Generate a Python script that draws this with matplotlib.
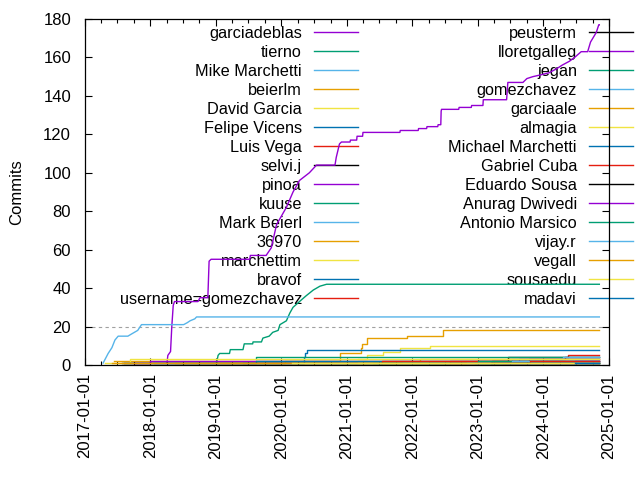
import matplotlib
matplotlib.use("Agg")
import matplotlib.pyplot as plt
import matplotlib.dates as mdates
from matplotlib.lines import Line2D
import pandas as pd

plt.rcParams['font.family'] = ['Liberation Sans', 'DejaVu Sans']

# every author line runs on to the day the chart was made
END = "2024-11-08"

# the big authors: corner points of the traced line, (date, total commits)
garciadeblas = [
    ("2018-04-03", 1), ("2018-04-08", 5), ("2018-04-23", 7), ("2018-04-30", 20),
    ("2018-05-08", 31), ("2018-05-15", 33), ("2018-09-23", 33), ("2018-10-04", 35),
    ("2018-11-17", 35), ("2018-11-24", 54), ("2018-12-05", 55), ("2019-07-09", 55),
    ("2019-07-12", 57), ("2019-10-08", 57), ("2019-11-06", 61), ("2019-12-05", 73),
    ("2020-01-29", 82), ("2020-03-06", 90), ("2020-04-11", 96), ("2020-06-05", 100),
    ("2020-07-15", 104), ("2020-10-26", 104), ("2020-11-02", 108), ("2020-11-20", 115),
    ("2020-12-01", 116), ("2021-01-18", 116), ("2021-01-20", 117), ("2021-02-24", 117),
    ("2021-02-26", 119), ("2021-03-29", 119), ("2021-03-31", 121), ("2021-10-23", 121),
    ("2021-10-25", 122), ("2022-02-02", 122), ("2022-02-04", 123), ("2022-03-21", 123),
    ("2022-03-23", 124), ("2022-05-22", 124), ("2022-05-24", 125), ("2022-06-08", 125),
    ("2022-06-10", 132), ("2022-06-12", 133), ("2022-09-16", 133), ("2022-09-18", 134),
    ("2022-11-25", 134), ("2022-11-27", 135), ("2023-01-29", 135), ("2023-01-31", 138),
    ("2023-06-10", 138), ("2023-06-17", 147), ("2023-09-09", 147), ("2023-10-01", 149),
    ("2023-11-03", 150), ("2023-12-20", 151), ("2024-02-01", 152), ("2024-03-13", 154),
    ("2024-04-15", 156), ("2024-05-25", 158), ("2024-06-23", 160), ("2024-07-30", 163),
    ("2024-09-04", 163), ("2024-09-20", 168), ("2024-10-22", 173), ("2024-11-05", 177),
]
tierno = [
    ("2019-01-05", 1), ("2019-01-13", 5), ("2019-01-22", 6), ("2019-03-18", 6),
    ("2019-03-22", 8), ("2019-06-01", 8), ("2019-06-08", 11), ("2019-07-25", 11),
    ("2019-07-27", 12), ("2019-09-12", 12), ("2019-09-20", 14), ("2019-10-25", 15),
    ("2019-11-14", 17), ("2019-12-14", 18), ("2019-12-24", 21), ("2020-01-29", 23),
    ("2020-02-17", 27), ("2020-03-06", 30), ("2020-04-11", 33), ("2020-05-18", 36),
    ("2020-06-27", 39), ("2020-08-03", 41), ("2020-09-09", 42),
]
mike_marchetti = [
    ("2017-04-12", 1), ("2017-05-10", 6), ("2017-05-31", 9), ("2017-06-17", 13),
    ("2017-07-05", 15), ("2017-08-28", 15), ("2017-09-15", 16), ("2017-10-22", 18),
    ("2017-11-12", 21), ("2018-07-05", 21), ("2018-07-25", 22), ("2018-08-10", 23),
    ("2018-09-05", 24), ("2018-09-15", 25),
]

# the others: (date of commit, running total), drawn as steps
beierlm = [
    ("2017-06-14", 2), ("2020-11-22", 6), ("2021-03-22", 9), ("2021-03-26", 11),
    ("2021-04-20", 14), ("2021-12-02", 15), ("2022-06-18", 18),
]
david_garcia = [
    ("2021-03-03", 3), ("2021-04-20", 5), ("2021-07-22", 7),
    ("2021-10-22", 9), ("2022-04-08", 10),
]
felipe_vicens = [("2020-04-10", 1), ("2020-05-08", 4), ("2020-05-12", 6), ("2020-05-25", 8)]
luis_vega = [("2021-07-08", 1), ("2022-07-30", 2), ("2023-10-15", 3), ("2024-05-01", 4), ("2024-05-20", 5)]
selvi_j = [("2017-08-08", 1), ("2023-03-20", 2), ("2023-06-18", 4)]
pinoa = [("2017-10-02", 1), ("2017-12-28", 2), ("2023-08-20", 3)]
kuuse = [("2019-08-10", 3), ("2019-08-15", 4)]
mark_beierl = [("2021-06-01", 1), ("2023-07-10", 3), ("2024-04-20", 4)]
u36970 = [("2018-05-20", 1), ("2020-01-20", 2), ("2022-02-10", 3)]
marchettim = [("2017-04-22", 1), ("2017-09-10", 3)]
bravof = [("2019-06-01", 1), ("2019-08-10", 2)]
username_gomezchavez = [("2021-07-10", 1), ("2021-07-15", 2)]
peusterm = [("2017-07-25", 1)]
lloretgalleg = [("2024-06-18", 1), ("2024-06-25", 2)]
jegan = [("2021-05-25", 1), ("2023-01-01", 2)]
gomezchavez = [("2021-11-08", 1), ("2023-07-10", 2)]
garciaale = [("2019-01-10", 1)]
almagia = [("2021-03-01", 1)]
michael_marchetti = [("2018-01-20", 1)]
gabriel_cuba = [("2022-07-30", 1), ("2023-10-20", 2)]
eduardo_sousa = [("2023-03-15", 1)]
anurag_dwivedi = [("2023-05-20", 1)]
antonio_marsico = [("2022-12-15", 1)]
vijay_r = [("2022-10-30", 1)]
vegall = [("2017-06-01", 1)]
sousaedu = [("2020-03-01", 1)]
madavi = [("2024-06-25", 1)]

names = [
    "garciadeblas", "tierno", "Mike Marchetti", "beierlm", "David Garcia",
    "Felipe Vicens", "Luis Vega", "selvi.j", "pinoa", "kuuse", "Mark Beierl",
    "36970", "marchettim", "bravof", "username=gomezchavez",
    "peusterm", "lloretgalleg", "jegan", "gomezchavez", "garciaale", "almagia",
    "Michael Marchetti", "Gabriel Cuba", "Eduardo Sousa", "Anurag Dwivedi",
    "Antonio Marsico", "vijay.r", "vegall", "sousaedu", "madavi",
]
series = [
    garciadeblas, tierno, mike_marchetti, beierlm, david_garcia,
    felipe_vicens, luis_vega, selvi_j, pinoa, kuuse, mark_beierl,
    u36970, marchettim, bravof, username_gomezchavez,
    peusterm, lloretgalleg, jegan, gomezchavez, garciaale, almagia,
    michael_marchetti, gabriel_cuba, eduardo_sousa, anurag_dwivedi,
    antonio_marsico, vijay_r, vegall, sousaedu, madavi,
]
traced = ["garciadeblas", "tierno", "Mike Marchetti"]

# gnuplot default line colours
colors = ["#9400d3", "#009e73", "#56b4e9", "#e69f00",
          "#f0e442", "#0072b2", "#e51e10", "#000000"]

fig = plt.figure(figsize=(6.4, 4.8), dpi=100)
ax = fig.add_axes([85 / 640, 1 - 365 / 480, (609 - 85) / 640, (365 - 19) / 480])

ax.axhline(20, color="#a0a0a0", lw=0.8, ls=(0, (3, 3)), zorder=1)

handles = []
for i, (name, pts) in enumerate(zip(names, series)):
    d = pd.to_datetime([p[0] for p in pts] + [END])
    v = [p[1] for p in pts] + [pts[-1][1]]
    c = colors[i % len(colors)]
    style = "default" if name in traced else "steps-post"
    ax.plot(d, v, drawstyle=style, color=c, lw=1.0, zorder=2)
    handles.append(Line2D([], [], color=c, lw=1.0))

ax.set_xlim(pd.Timestamp("2017-01-01"), pd.Timestamp("2025-01-01"))
ax.set_ylim(0, 180)
ax.set_yticks(range(0, 181, 20))
ax.xaxis.set_major_locator(mdates.YearLocator())
ax.xaxis.set_minor_locator(mdates.MonthLocator(bymonth=[4, 7, 10]))
ax.xaxis.set_major_formatter(mdates.DateFormatter("%Y-%m-%d"))
ax.tick_params(which="both", direction="in", top=True, right=True, width=0.8, labelsize=12)
ax.tick_params(which="major", length=5)
ax.tick_params(which="minor", length=3)
ax.tick_params(axis="y", pad=10)
ax.tick_params(axis="x", pad=6)
for lab in ax.get_xticklabels():
    lab.set_rotation(90)
for sp in ax.spines.values():
    sp.set_linewidth(0.9)
ax.set_ylabel("Commits", fontsize=12, labelpad=14)

# key in two columns, text right-aligned with the sample to its right
legkw = dict(loc="upper right", frameon=False, fontsize=11.7, markerfirst=False,
             borderpad=0, borderaxespad=0, handlelength=2.7, handletextpad=0.75,
             labelspacing=0.245, bbox_transform=fig.transFigure)
leg1 = ax.legend(handles[:15], names[:15], bbox_to_anchor=(358 / 640, 1 - 26 / 480), **legkw)
leg1.set_zorder(1)
ax.add_artist(leg1)
leg2 = ax.legend(handles[15:], names[15:], bbox_to_anchor=(633 / 640, 1 - 26 / 480), **legkw)
leg2.set_zorder(1)

fig.savefig("out.png", dpi=100)
